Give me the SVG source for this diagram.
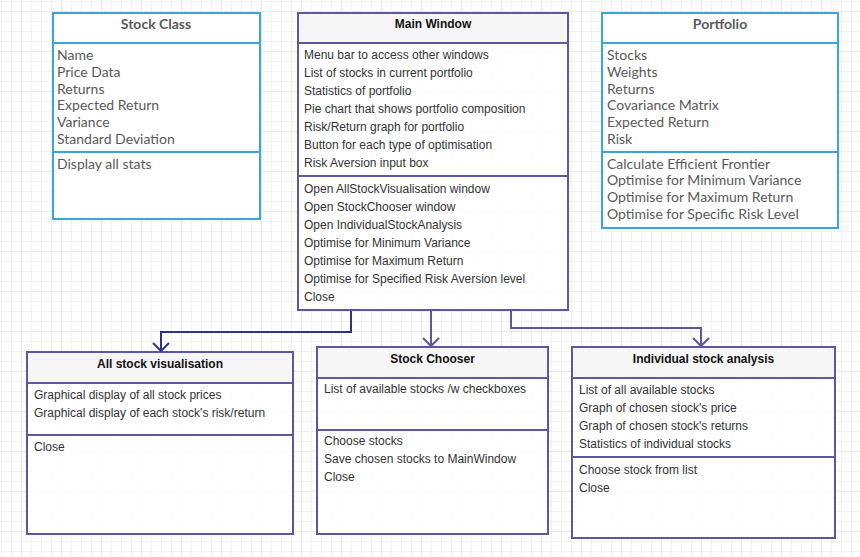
<svg xmlns="http://www.w3.org/2000/svg" width="860" height="557" viewBox="0 0 860 557">
<defs>
<pattern id="grid" x="21" y="11" width="40" height="40" patternUnits="userSpaceOnUse">
<path d="M10.5 0V40M20.5 0V40M30.5 0V40M0 10.5H40M0 20.5H40M0 30.5H40" stroke="#f2f2f2" stroke-width="1" fill="none"/>
<path d="M0.5 0V40M0 0.5H40" stroke="#e8e8e8" stroke-width="1" fill="none"/>
</pattern>
</defs>
<style>
.blue{fill:#fff;stroke:#3aa3e0;stroke-width:2}
.bline{stroke:#3aa3e0;stroke-width:2}
.purp{fill:#fff;fill-opacity:0.85;stroke:#5b57a3;stroke-width:2}
.head{fill:#f5f5f5;fill-opacity:0.9}
.pline{stroke:#5b57a3;stroke-width:2}
.lt{font-family:Lato,"Liberation Sans",sans-serif;font-size:14px;fill:#595959}
.ltb{font-family:Lato,"Liberation Sans",sans-serif;font-size:14px;font-weight:bold;fill:#595959;text-anchor:middle}
.ar{font-family:"Liberation Sans",Arial,sans-serif;font-size:12px;fill:#333}
.arb{font-family:"Liberation Sans",Arial,sans-serif;font-size:12px;font-weight:bold;fill:#111;text-anchor:middle}
.conn{fill:none;stroke-width:2}
</style>
<rect width="860" height="557" fill="#fff"/>
<rect width="860" height="557" fill="url(#grid)"/>

<g id="stock-class">
<rect class="blue" x="53" y="13" width="207" height="206"/>
<line class="bline" x1="53" y1="43" x2="260" y2="43"/>
<line class="bline" x1="53" y1="152" x2="260" y2="152"/>
<text class="ltb" x="156" y="29">Stock Class</text>
<text class="lt" x="57" y="60">Name</text>
<text class="lt" x="57" y="77">Price Data</text>
<text class="lt" x="57" y="94">Returns</text>
<text class="lt" x="57" y="110">Expected Return</text>
<text class="lt" x="57" y="127">Variance</text>
<text class="lt" x="57" y="144">Standard Deviation</text>
<text class="lt" x="57" y="169">Display all stats</text>
</g>

<g id="main-window">
<rect class="purp" x="298" y="13" width="270" height="297"/>
<rect class="head" x="299" y="14" width="268" height="29"/>
<line class="pline" x1="298" y1="43" x2="568" y2="43"/>
<line class="pline" x1="298" y1="176" x2="568" y2="176"/>
<text class="arb" x="433" y="28">Main Window</text>
<text class="ar" x="304" y="59">Menu bar to access other windows</text>
<text class="ar" x="304" y="77">List of stocks in current portfolio</text>
<text class="ar" x="304" y="95">Statistics of portfolio</text>
<text class="ar" x="304" y="113">Pie chart that shows portfolio composition</text>
<text class="ar" x="304" y="131">Risk/Return graph for portfolio</text>
<text class="ar" x="304" y="149">Button for each type of optimisation</text>
<text class="ar" x="304" y="167">Risk Aversion input box</text>
<text class="ar" x="304" y="193">Open AllStockVisualisation window</text>
<text class="ar" x="304" y="211">Open StockChooser window</text>
<text class="ar" x="304" y="229">Open IndividualStockAnalysis</text>
<text class="ar" x="304" y="247">Optimise for Minimum Variance</text>
<text class="ar" x="304" y="265">Optimise for Maximum Return</text>
<text class="ar" x="304" y="283">Optimise for Specified Risk Aversion level</text>
<text class="ar" x="304" y="301">Close</text>
</g>

<g id="portfolio">
<rect class="blue" x="602" y="13" width="236" height="215"/>
<line class="bline" x1="602" y1="43" x2="838" y2="43"/>
<line class="bline" x1="602" y1="152" x2="838" y2="152"/>
<text class="ltb" x="720" y="29">Portfolio</text>
<text class="lt" x="607" y="60">Stocks</text>
<text class="lt" x="607" y="77">Weights</text>
<text class="lt" x="607" y="94">Returns</text>
<text class="lt" x="607" y="110">Covariance Matrix</text>
<text class="lt" x="607" y="127">Expected Return</text>
<text class="lt" x="607" y="144">Risk</text>
<text class="lt" x="607" y="169">Calculate Efficient Frontier</text>
<text class="lt" x="607" y="185">Optimise for Minimum Variance</text>
<text class="lt" x="607" y="202">Optimise for Maximum Return</text>
<text class="lt" x="607" y="219">Optimise for Specific Risk Level</text>
</g>

<g id="all-stock-visualisation">
<rect class="purp" x="27" y="352" width="266" height="182"/>
<rect class="head" x="28" y="353" width="264" height="30"/>
<line class="pline" x1="27" y1="383" x2="293" y2="383"/>
<line class="pline" x1="27" y1="435" x2="293" y2="435"/>
<text class="arb" x="160" y="368">All stock visualisation</text>
<text class="ar" x="34" y="399">Graphical display of all stock prices</text>
<text class="ar" x="34" y="417">Graphical display of each stock's risk/return</text>
<text class="ar" x="34" y="451">Close</text>
</g>

<g id="stock-chooser">
<rect class="purp" x="317" y="347" width="231" height="187"/>
<rect class="head" x="318" y="348" width="229" height="30"/>
<line class="pline" x1="317" y1="378" x2="548" y2="378"/>
<line class="pline" x1="317" y1="430" x2="548" y2="430"/>
<text class="arb" x="432.5" y="363">Stock Chooser</text>
<text class="ar" x="324" y="393">List of available stocks /w checkboxes</text>
<text class="ar" x="324" y="445">Choose stocks</text>
<text class="ar" x="324" y="463">Save chosen stocks to MainWindow</text>
<text class="ar" x="324" y="481">Close</text>
</g>

<g id="individual-stock-analysis">
<rect class="purp" x="572" y="347" width="263" height="191"/>
<rect class="head" x="573" y="348" width="261" height="30"/>
<line class="pline" x1="572" y1="378" x2="835" y2="378"/>
<line class="pline" x1="572" y1="457" x2="835" y2="457"/>
<text class="arb" x="703.5" y="363">Individual stock analysis</text>
<text class="ar" x="579" y="394">List of all available stocks</text>
<text class="ar" x="579" y="412">Graph of chosen stock's price</text>
<text class="ar" x="579" y="430">Graph of chosen stock's returns</text>
<text class="ar" x="579" y="448">Statistics of individual stocks</text>
<text class="ar" x="579" y="474">Choose stock from list</text>
<text class="ar" x="579" y="492">Close</text>
</g>

<g id="connectors">
<path class="conn" stroke="#30308f" d="M351 311V332H161V351"/>
<path class="conn" stroke="#30308f" d="M153 343L161 351L169 343"/>
<path class="conn" stroke="#5b57a3" d="M431 311V346"/>
<path class="conn" stroke="#5b57a3" d="M423 338L431 346L439 338"/>
<path class="conn" stroke="#5b57a3" d="M511 311V328H701V346"/>
<path class="conn" stroke="#5b57a3" d="M693 338L701 346L709 338"/>
</g>
</svg>
